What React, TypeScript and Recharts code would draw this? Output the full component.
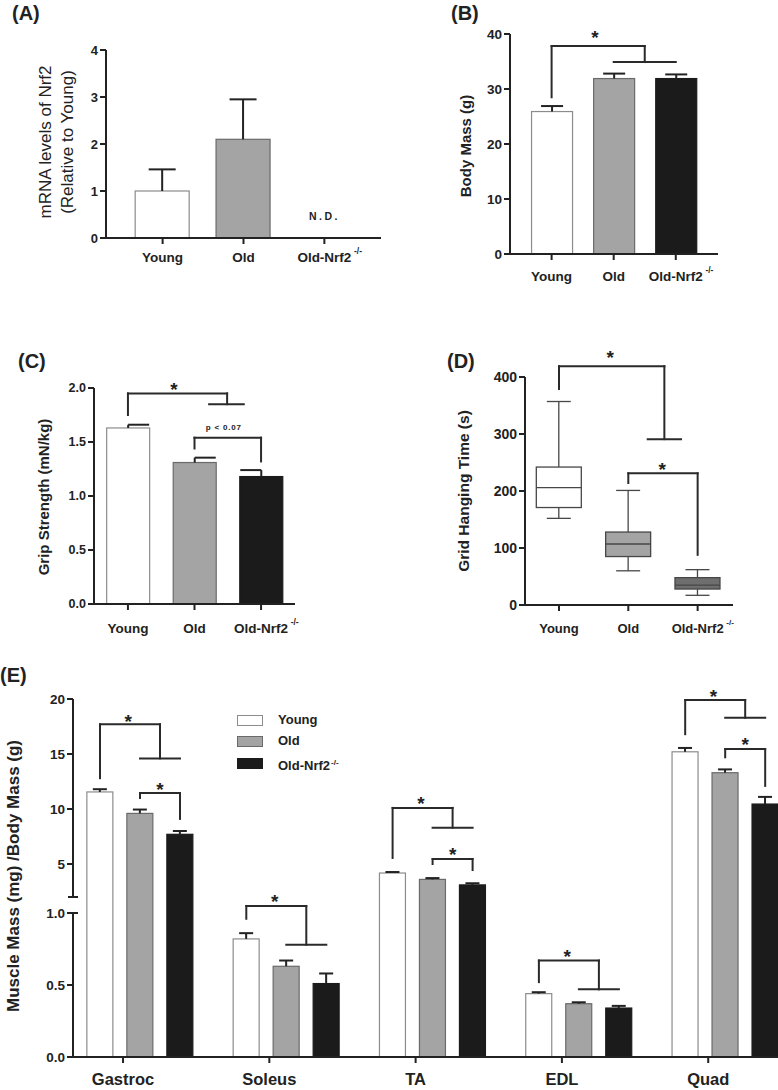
import React from "react";
import { BarChart, Bar, XAxis, YAxis, ReferenceLine, ReferenceDot } from "recharts";

/* ── data ────────────────────────────────────────────────────────────────── */

const GROUPS = ["Young", "Old", "Old-Nrf2"];

// (A) mRNA levels of Nrf2, relative to Young (knockout: not detected)
const MRNA_MEAN = [1.0, 2.1, null];
const MRNA_SEM = [0.46, 0.85, null];

// (B) body mass, g
const BODY_MASS_MEAN = [25.9, 31.9, 31.9];
const BODY_MASS_SEM = [1.0, 0.9, 0.75];

// (C) grip strength, mN/kg
const GRIP_MEAN = [1.63, 1.31, 1.18];
const GRIP_SEM = [0.03, 0.045, 0.06];

// (D) grid hanging time, s (box plot)
const HANG_MIN = [152, 60, 17];
const HANG_Q1 = [171, 85, 28];
const HANG_MEDIAN = [206, 107, 35];
const HANG_Q3 = [242, 128, 48];
const HANG_MAX = [357, 201, 62];

// (E) muscle mass (mg) / body mass (g)
const MUSCLES = ["Gastroc", "Soleus", "TA", "EDL", "Quad"];
const MM_YOUNG = [11.55, 0.82, 4.18, 0.44, 15.2];
const MM_YOUNG_SEM = [0.25, 0.04, 0.09, 0.01, 0.35];
const MM_OLD = [9.6, 0.63, 3.6, 0.37, 13.3];
const MM_OLD_SEM = [0.35, 0.04, 0.12, 0.01, 0.3];
const MM_KO = [7.7, 0.51, 3.1, 0.34, 10.45];
const MM_KO_SEM = [0.3, 0.07, 0.15, 0.015, 0.65];

// (E) y ticks of the broken axis
const E_TICKS = [0, 0.5, 1, 2, 5, 10, 15, 20];
const E_TICK_LABELS = ["0.0", "0.5", "1.0", "", "5", "10", "15", "20"];

// significance brackets, in data units
// young vs (old, ko): [start, top, drop]
const E_SIG_AGE = [
  [12.8, 17.7, 14.6],
  [0.96, 1.44, 0.78],
  [5.55, 10.1, 8.3],
  [0.52, 0.67, 0.47],
  [16.8, 19.9, 18.3],
];
const E_STAR_AGE = [18.4, 2.0, 10.9, 0.73, 20.6];
// old vs ko: [start, top, end]
const E_SIG_KO = [[11.0, 11.45, 9.1], null, [5.0, 5.45, 4.45], null, [14.7, 15.45, 12.1]];
const E_STAR_KO = [12.2, null, 6.27, null, 16.3];

/* ── style ───────────────────────────────────────────────────────────────── */

const FONT = "'Liberation Sans', Arial, Helvetica, sans-serif";
const INK = "#222";
const LINE = "#2a2a2a";
const FILLS = ["#ffffff", "#a4a4a4", "#1b1b1b"];
const EDGES = ["#8c8c8c", "#6a6a6a", "#1b1b1b"];
const BOX_FILLS = ["#ffffff", "#a4a4a4", "#6e6e6e"];
const AXIS = { stroke: INK, strokeWidth: 2 };

/* ── helpers ─────────────────────────────────────────────────────────────── */

type Pt = [number, number];

function seg(key: string, a: Pt, b: Pt) {
  return (
    <ReferenceLine
      key={key}
      segment={[{ x: a[0], y: a[1] }, { x: b[0], y: b[1] }]}
      stroke={LINE}
      strokeWidth={2}
      strokeLinecap="square"
      ifOverflow="visible"
    />
  );
}

function bracket(key: string, path: Pt[], bar?: Pt[]) {
  const out = [];
  for (let i = 1; i < path.length; i++) out.push(seg(`${key}-${i}`, path[i - 1], path[i]));
  if (bar) out.push(seg(`${key}-bar`, bar[0], bar[1]));
  return out;
}

// text mark centred on (x, y); lift moves the baseline so the glyph sits centred
function note(key: string, x: number, y: number, text: string, fs: number, lift: number, spacing = 0) {
  return (
    <ReferenceDot
      key={key}
      x={x}
      y={y}
      r={0}
      ifOverflow="visible"
      shape={(p: any) => (
        <text
          x={p.cx}
          y={p.cy + lift * fs}
          textAnchor="middle"
          fontSize={fs}
          fontWeight={700}
          fontFamily={FONT}
          letterSpacing={spacing}
          fill={INK}
        >
          {text}
        </text>
      )}
    />
  );
}

const star = (key: string, x: number, y: number) => note(key, x, y, "*", 19, 0.58);

// bar with an upward-only SEM whisker; the bar's own pixels give the scale (axis starts at 0)
function meanBar(valueKey: string, semKey: string, colour: (p: any) => number, cap: (i: number) => Pt) {
  return (p: any) => {
    const { x, y, width, height, payload } = p;
    const v = payload[valueKey];
    const e = payload[semKey];
    if (v == null || !height) return <g />;
    const i = colour(p);
    const top = y - (e / v) * height;
    const cx = x + width / 2;
    const [l, r] = cap(i);
    return (
      <g>
        <rect x={x} y={y} width={width} height={height} fill={FILLS[i]} stroke={EDGES[i]} strokeWidth={1.2} />
        <line x1={cx} x2={cx} y1={y} y2={top} stroke={INK} strokeWidth={2} />
        <line x1={cx + l} x2={cx + r} y1={top} y2={top} stroke={INK} strokeWidth={2} />
      </g>
    );
  };
}

function groupTick(names: string[], fs: number, drop: number, shift = 0) {
  return (p: any) => {
    const name = names[Math.round(p.payload.value - shift)] ?? "";
    return (
      <g>
        <text x={p.x} y={p.y + drop} textAnchor="middle" fontSize={fs} fontWeight={700} fontFamily={FONT} fill={INK}>
          {name}
        </text>
        {name === "Old-Nrf2" && (
          <text x={p.x + fs * 2.2} y={p.y + drop - fs * 0.6} fontSize={fs * 0.62} fontWeight={700} fontFamily={FONT} fill={INK}>
            -/-
          </text>
        )}
      </g>
    );
  };
}

function yTick(fs: number) {
  return { fill: INK, fontSize: fs, fontWeight: 700, fontFamily: FONT };
}

function axisTitle(lines: string[], xs: number[], cy: number, fs: number, bold = true) {
  return () => (
    <g>
      {lines.map((l, i) => (
        <text
          key={l}
          transform={`translate(${xs[i]},${cy}) rotate(-90)`}
          textAnchor="middle"
          dominantBaseline="central"
          fontSize={fs}
          fontWeight={bold ? 700 : 400}
          fontFamily={FONT}
          fill={INK}
        >
          {l}
        </text>
      ))}
    </g>
  );
}

function PanelLabel({ text, left, top }: { text: string; left: number; top: number }) {
  return (
    <div style={{ position: "absolute", left, top, fontSize: 20, lineHeight: "20px", fontWeight: 700, fontFamily: FONT, color: INK }}>
      {text}
    </div>
  );
}

const byRow = (p: any) => p.payload.x;

/* ── (A) ─────────────────────────────────────────────────────────────────── */

function PanelA() {
  const data = GROUPS.map((_, i) => ({ x: i, v: MRNA_MEAN[i], sem: MRNA_SEM[i] }));
  return (
    <BarChart width={390} height={290} data={data} margin={{ top: 50, right: 9, bottom: 22, left: 0 }}>
      <XAxis type="number" dataKey="x" domain={[-0.7, 2.7]} allowDataOverflow ticks={[0, 1, 2]} height={30}
        axisLine={AXIS} tickLine={AXIS} tickSize={6} tick={groupTick(GROUPS, 13.5, 16)} />
      <YAxis type="number" domain={[0, 4]} ticks={[0, 1, 2, 3, 4]} width={106} axisLine={AXIS} tickLine={AXIS}
        tickSize={6} tick={yTick(13)}
        label={axisTitle(["mRNA levels of Nrf2", "(Relative to Young)"], [45, 67], 142, 17, false)} />
      <Bar dataKey="v" barSize={54} isAnimationActive={false}
        shape={meanBar("v", "sem", byRow, () => [-13.5, 13.5])} />
      {note("nd", 2, 0.47, "N.D.", 10.5, 0.36, 2.5)}
    </BarChart>
  );
}

/* ── (B) ─────────────────────────────────────────────────────────────────── */

function PanelB() {
  const data = GROUPS.map((_, i) => ({ x: i, v: BODY_MASS_MEAN[i], sem: BODY_MASS_SEM[i] }));
  return (
    <BarChart width={388} height={290} data={data} margin={{ top: 34, right: 60, bottom: 0, left: 0 }}>
      <XAxis type="number" dataKey="x" domain={[-0.67, 2.68]} allowDataOverflow ticks={[0, 1, 2]} height={36}
        axisLine={AXIS} tickLine={AXIS} tickSize={6} tick={groupTick(GROUPS, 13.5, 19)} />
      <YAxis type="number" domain={[0, 40]} ticks={[0, 10, 20, 30, 40]} width={120} axisLine={AXIS} tickLine={AXIS}
        tickSize={6} tick={yTick(13.5)} label={axisTitle(["Body Mass (g)"], [75], 146, 15)} />
      <Bar dataKey="v" barSize={41} isAnimationActive={false}
        shape={meanBar("v", "sem", byRow, () => [-11, 11])} />
      {bracket("b1", [[0, 28.5], [0, 37.8], [1.5, 37.8], [1.5, 34.9]], [[1, 34.9], [2, 34.9]])}
      {star("bs", 0.7, 40.2)}
    </BarChart>
  );
}

/* ── (C) ─────────────────────────────────────────────────────────────────── */

function PanelC() {
  const data = GROUPS.map((_, i) => ({ x: i, v: GRIP_MEAN[i], sem: GRIP_SEM[i] }));
  return (
    <BarChart width={390} height={360} data={data} margin={{ top: 98, right: 95, bottom: 0, left: 0 }}>
      <XAxis type="number" dataKey="x" domain={[-0.51, 2.51]} allowDataOverflow ticks={[0, 1, 2]} height={46}
        axisLine={AXIS} tickLine={AXIS} tickSize={6} tick={groupTick(GROUPS, 13.5, 21)} />
      <YAxis type="number" domain={[0, 2]} ticks={[0, 0.5, 1, 1.5, 2]} width={94} axisLine={AXIS} tickLine={AXIS}
        tickSize={6} tick={yTick(12.5)} tickFormatter={(v: number) => v.toFixed(1)}
        label={axisTitle(["Grip Strength (mN/kg)"], [43], 207, 15)} />
      <Bar dataKey="v" barSize={43} isAnimationActive={false}
        shape={meanBar("v", "sem", byRow, (i) => (i === 2 ? [-21, 0] : [0, 21]))} />
      {bracket("c1", [[0, 1.75], [0, 1.95], [1.49, 1.95], [1.49, 1.85]], [[1.22, 1.85], [1.74, 1.85]])}
      {star("cs1", 0.69, 2.03)}
      {bracket("c2", [[1, 1.44], [1, 1.54], [2, 1.54], [2, 1.32]])}
      {note("cp", 1.44, 1.64, "p < 0.07", 8, 0.36, 0.8)}
    </BarChart>
  );
}

/* ── (D) ─────────────────────────────────────────────────────────────────── */

function BoxShape(p: any) {
  const { x, y, width, height, payload } = p;
  const top = Math.min(y, y + height);
  const bot = Math.max(y, y + height);
  const px = (v: number) => bot - ((v - payload.min) / (payload.max - payload.min)) * (bot - top);
  const cx = x + width / 2;
  const cap = 12;
  return (
    <g stroke="#474747" strokeWidth={1.3}>
      <line x1={cx} x2={cx} y1={px(payload.max)} y2={px(payload.q3)} />
      <line x1={cx} x2={cx} y1={px(payload.q1)} y2={px(payload.min)} />
      <line x1={cx - cap} x2={cx + cap} y1={px(payload.max)} y2={px(payload.max)} />
      <line x1={cx - cap} x2={cx + cap} y1={px(payload.min)} y2={px(payload.min)} />
      <rect x={x} y={px(payload.q3)} width={width} height={px(payload.q1) - px(payload.q3)} fill={BOX_FILLS[payload.x]} />
      <line x1={x} x2={x + width} y1={px(payload.median)} y2={px(payload.median)} />
    </g>
  );
}

function PanelD() {
  const data = GROUPS.map((_, i) => ({
    x: i,
    min: HANG_MIN[i],
    q1: HANG_Q1[i],
    median: HANG_MEDIAN[i],
    q3: HANG_Q3[i],
    max: HANG_MAX[i],
  }));
  return (
    <BarChart width={388} height={360} data={data} margin={{ top: 87, right: 45, bottom: 0, left: 0 }}>
      <XAxis type="number" dataKey="x" domain={[-0.49, 2.51]} allowDataOverflow ticks={[0, 1, 2]} height={45}
        axisLine={AXIS} tickLine={AXIS} tickSize={6} tick={groupTick(GROUPS, 13, 20)} />
      <YAxis type="number" domain={[0, 400]} ticks={[0, 100, 200, 300, 400]} width={135} axisLine={AXIS}
        tickLine={AXIS} tickSize={6} tick={yTick(14)}
        label={axisTitle(["Grid Hanging Time (s)"], [73], 201, 15.5)} />
      <Bar dataKey={(d: any) => [d.min, d.max]} barSize={45} shape={BoxShape} isAnimationActive={false} />
      {bracket("d1", [[0, 379], [0, 419], [1.52, 419], [1.52, 291]], [[1.28, 291], [1.76, 291]])}
      {star("ds1", 0.74, 442)}
      {bracket("d2", [[1, 214], [1, 231], [2, 231], [2, 88]])}
      {star("ds2", 1.49, 246)}
    </BarChart>
  );
}

/* ── (E) ─────────────────────────────────────────────────────────────────── */

// broken y axis: 0–1 on the lower segment, 2–20 on the upper one
function brk(v: number) {
  if (v <= 1) return v * 144;
  if (v <= 2) return 144 + (v - 1) * 16;
  return 160 + (v - 2) * 11;
}

const E_X_DOMAIN = [-0.458, 4.361];
const E_PLOT_W = 705;
const E_BAR = 26;
const E_GAP = 14;
const E_UNIT_PX = E_PLOT_W / (E_X_DOMAIN[1] - E_X_DOMAIN[0]);
const E_PITCH = (E_BAR + E_GAP) / E_UNIT_PX;
const E_TICK_SHIFT = -0.116;
const E_CAP = 5 / E_UNIT_PX;

function PanelE() {
  const data = MUSCLES.map((m, i) => ({
    x: i,
    young: brk(MM_YOUNG[i]),
    youngSem: brk(MM_YOUNG[i] + MM_YOUNG_SEM[i]) - brk(MM_YOUNG[i]),
    old: brk(MM_OLD[i]),
    oldSem: brk(MM_OLD[i] + MM_OLD_SEM[i]) - brk(MM_OLD[i]),
    ko: brk(MM_KO[i]),
    koSem: brk(MM_KO[i] + MM_KO_SEM[i]) - brk(MM_KO[i]),
  }));
  const tickLabel = new Map(E_TICKS.map((t, i) => [brk(t), E_TICK_LABELS[i]]));
  const x0 = E_X_DOMAIN[0];
  const cap = (): Pt => [-7, 7];

  const marks: any[] = [];
  MUSCLES.forEach((_, i) => {
    const [s, t, d] = E_SIG_AGE[i];
    const mid = i + E_PITCH / 2;
    marks.push(
      ...bracket(`ea${i}`, [[i - E_PITCH, brk(s)], [i - E_PITCH, brk(t)], [mid, brk(t)], [mid, brk(d)]],
        [[i, brk(d)], [i + E_PITCH, brk(d)]]),
      star(`eas${i}`, i - 0.08, brk(E_STAR_AGE[i])),
    );
    const ko = E_SIG_KO[i];
    if (ko) {
      marks.push(
        ...bracket(`ek${i}`, [[i, brk(ko[0])], [i, brk(ko[1])], [i + E_PITCH, brk(ko[1])], [i + E_PITCH, brk(ko[2])]]),
        star(`eks${i}`, mid, brk(E_STAR_KO[i] as number)),
      );
    }
  });

  return (
    <BarChart width={778} height={430} data={data} barGap={E_GAP} margin={{ top: 39, right: 0, bottom: 0, left: 0 }}>
      <XAxis type="number" dataKey="x" domain={E_X_DOMAIN} allowDataOverflow
        ticks={MUSCLES.map((_, i) => i + E_TICK_SHIFT)} height={33} axisLine={AXIS} tickLine={AXIS} tickSize={6}
        tick={groupTick(MUSCLES, 16.5, 20, E_TICK_SHIFT)} />
      <YAxis type="number" domain={[0, brk(20)]} allowDataOverflow ticks={E_TICKS.filter((t) => t !== 2).map(brk)}
        width={73} axisLine={false} tickLine={AXIS} tickSize={6} tick={yTick(13.5)}
        tickFormatter={(v: number) => tickLabel.get(v) ?? ""}
        label={axisTitle(["Muscle Mass (mg) /Body Mass (g)"], [13], 216, 17)} />
      <Bar dataKey="young" barSize={E_BAR} isAnimationActive={false} shape={meanBar("young", "youngSem", () => 0, cap)} />
      <Bar dataKey="old" barSize={E_BAR} isAnimationActive={false} shape={meanBar("old", "oldSem", () => 1, cap)} />
      <Bar dataKey="ko" barSize={E_BAR} isAnimationActive={false} shape={meanBar("ko", "koSem", () => 2, cap)} />
      {/* broken y axis */}
      <ReferenceLine segment={[{ x: x0, y: 0 }, { x: x0, y: brk(1) }]} stroke={INK} strokeWidth={2} ifOverflow="visible" />
      <ReferenceLine segment={[{ x: x0, y: brk(2) }, { x: x0, y: brk(20) }]} stroke={INK} strokeWidth={2} ifOverflow="visible" />
      <ReferenceLine segment={[{ x: x0 - E_CAP, y: brk(1) }, { x: x0 + E_CAP, y: brk(1) }]} stroke={INK} strokeWidth={2} ifOverflow="visible" />
      <ReferenceLine segment={[{ x: x0 - E_CAP, y: brk(2) }, { x: x0 + E_CAP, y: brk(2) }]} stroke={INK} strokeWidth={2} ifOverflow="visible" />
      {marks}
    </BarChart>
  );
}

function LegendE() {
  const rows = [720, 741, 763];
  return (
    <div style={{ position: "absolute", left: 0, top: 0 }}>
      {GROUPS.map((g, i) => (
        <React.Fragment key={g}>
          <div
            style={{
              position: "absolute",
              left: 237,
              top: rows[i] - 5,
              width: 24,
              height: 9,
              background: FILLS[i],
              border: `1px solid ${EDGES[i]}`,
            }}
          />
          <div
            style={{
              position: "absolute",
              left: 278,
              top: rows[i] - 8,
              fontSize: 13,
              lineHeight: "16px",
              fontWeight: 700,
              fontFamily: FONT,
              color: INK,
              whiteSpace: "nowrap",
            }}
          >
            {g}
            {g === "Old-Nrf2" && <sup style={{ fontSize: 8, marginLeft: 1 }}>-/-</sup>}
          </div>
        </React.Fragment>
      ))}
    </div>
  );
}

/* ── page ────────────────────────────────────────────────────────────────── */

export default function App() {
  return (
    <div style={{ position: "absolute", left: 0, top: 0, width: 778, height: 1090, background: "#fff", overflow: "hidden" }}>
      <div style={{ position: "absolute", left: 0, top: 0 }}>
        <PanelA />
      </div>
      <div style={{ position: "absolute", left: 390, top: 0 }}>
        <PanelB />
      </div>
      <div style={{ position: "absolute", left: 0, top: 290 }}>
        <PanelC />
      </div>
      <div style={{ position: "absolute", left: 390, top: 290 }}>
        <PanelD />
      </div>
      <div style={{ position: "absolute", left: 0, top: 660 }}>
        <PanelE />
      </div>
      <LegendE />
      <PanelLabel text="(A)" left={12} top={3} />
      <PanelLabel text="(B)" left={451} top={3} />
      <PanelLabel text="(C)" left={18} top={351} />
      <PanelLabel text="(D)" left={447} top={351} />
      <PanelLabel text="(E)" left={0} top={665} />
    </div>
  );
}
